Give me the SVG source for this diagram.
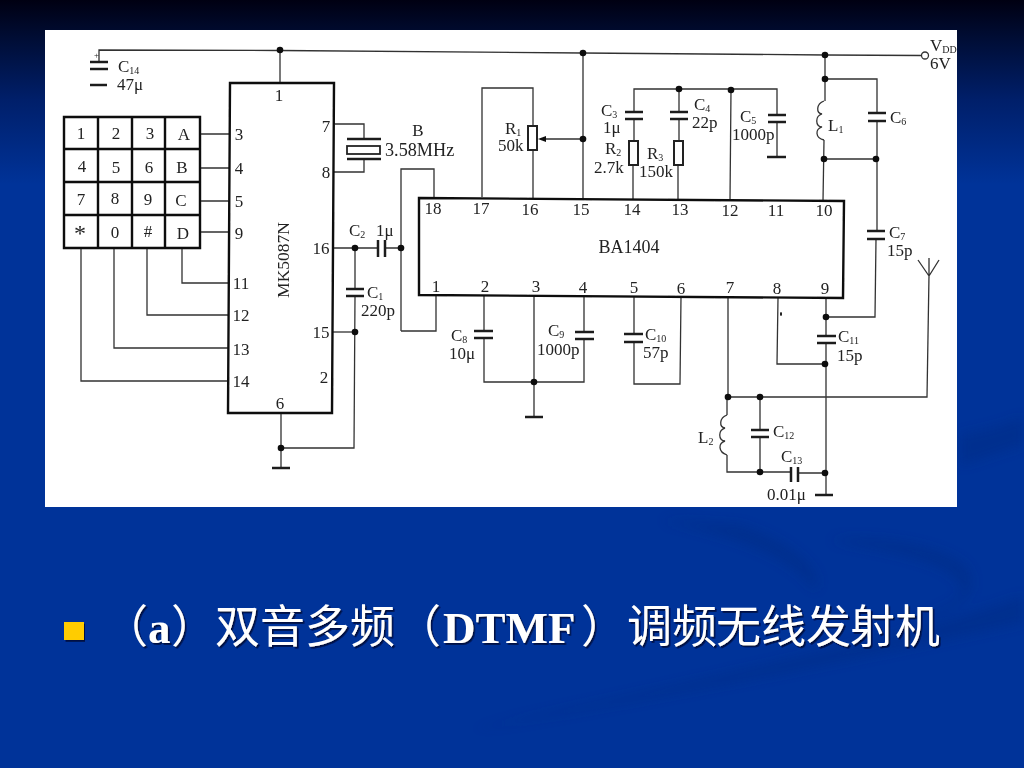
<svg xmlns="http://www.w3.org/2000/svg" width="1024" height="768" viewBox="0 0 1024 768">
<style>
.w{fill:none;stroke:#333;stroke-width:1.3}
.p{fill:none;stroke:#111;stroke-width:2.4}
.b{fill:none;stroke:#1a1a1a;stroke-width:2.500}
.o{fill:#fff;stroke:#222;stroke-width:2}
.d{fill:#111}
text{font-family:"Liberation Serif","Noto Sans CJK SC",serif}
.t{font-size:17px;fill:#222}
.c{font-size:17px;fill:#222;text-anchor:middle}
.s{font-size:10px}
.title{font-size:45px;fill:#fff;font-family:"Liberation Serif","Noto Sans CJK SC",serif}
.lat{font-weight:bold}
</style>
<defs>
<linearGradient id="bg" x1="0" y1="0" x2="0" y2="1">
<stop offset="0" stop-color="#000012"/>
<stop offset="0.05" stop-color="#000d35"/>
<stop offset="0.13" stop-color="#001f6a"/>
<stop offset="0.24" stop-color="#003399"/>
<stop offset="1" stop-color="#003399"/>
</linearGradient>
<filter id="soft" x="-5%" y="-5%" width="110%" height="110%"><feGaussianBlur stdDeviation="0.4"/></filter>
<filter id="blur" x="-20%" y="-20%" width="140%" height="140%"><feGaussianBlur stdDeviation="6"/></filter>
<filter id="shadow" x="-5%" y="-20%" width="110%" height="140%"><feDropShadow dx="1.6" dy="1.8" stdDeviation="0.5" flood-color="#001040" flood-opacity="0.95"/></filter>
</defs>
<rect width="1024" height="768" fill="url(#bg)"/>
<g id="swooshes" filter="url(#blur)" fill="#002a80" opacity="0.4">
<path d="M1024 596C900 640 700 680 470 730C640 700 860 660 1024 622Z"/>
<path d="M660 520C730 535 790 555 815 590C825 575 800 545 740 525Z"/>
<path d="M830 540C880 550 950 560 960 585C970 600 940 610 900 625C960 615 985 590 965 565C940 545 880 535 830 540Z"/>
<path d="M960 435C985 430 1005 425 1024 417V445C1005 450 985 458 960 465Z"/>
</g>
<rect id="panel" x="45" y="30" width="912" height="477" fill="#fff"/>
<g id="schematic" filter="url(#soft)">
<g id="connectors">
<path class="w" d="M99 62V50L280 50.500L582 53L826 55L921 55.500"/>
<path class="w" d="M280 51V83"/>
<path class="w" d="M200 134H230M200 168H230M200 201H230M200 232H229M182 248V283H229M147 248V315H229M114 248V348H228M81 248V381H228"/>
<path class="w" d="M334 124H364V139M364 159V172H333"/>
<path class="w" d="M281 413V467M281 448H354L355 296M355 289V248M334 248H378M385 248H401M401 331V169H434V198M401 331H436V296"/>
<path class="w" d="M333 332H355"/>
<path class="w" d="M482 197V88H533V126M533 150V199M583 53V199M583 139H540"/>
<path class="w" d="M634 112V89H777V115M634 119V141M633 165V199M679 89V112M679 119V141M678 165V199M731 90L730 200M777 122V157"/>
<path class="w" d="M825 55V101M824 140L823 201M825 79H877V113M877 121V231M824 159H876M876 239L875 317H826M826 298V336M826 343V495M825 364H777L778 298"/>
<path class="w" d="M484 296V331M484 338V382H584V339M584 332V296M534 296V416M634 296V334M634 342V384H680L681 297"/>
<path class="w" d="M728 298V397H927L929 275M929 258V276L918 260M929 276L939 260"/>
<path class="w" d="M760 397V430M760 437V472M727 397V415M727 455V472H791M798 473H825"/>
<path class="w" d="M824 101C816 104 816 113 822 114C815 116 815 126 822 127C815 129 815 138 824 140" stroke-width="1.6"/>
<path class="w" d="M727 415C719 418 719 427 725 428C718 430 718 440 725 441C718 443 718 452 727 455" stroke-width="1.6"/>
</g>
<g id="dots">
<circle class="d" cx="280" cy="50" r="3.300"/><circle class="d" cx="355" cy="248" r="3.300"/><circle class="d" cx="401" cy="248" r="3.300"/><circle class="d" cx="355" cy="332" r="3.300"/><circle class="d" cx="281" cy="448" r="3.300"/>
<circle class="d" cx="583" cy="53" r="3.300"/><circle class="d" cx="583" cy="139" r="3.300"/><circle class="d" cx="679" cy="89" r="3.300"/><circle class="d" cx="731" cy="90" r="3.300"/>
<circle class="d" cx="825" cy="55" r="3.300"/><circle class="d" cx="825" cy="79" r="3.300"/><circle class="d" cx="824" cy="159" r="3.300"/><circle class="d" cx="876" cy="159" r="3.300"/>
<circle class="d" cx="826" cy="317" r="3.300"/><circle class="d" cx="825" cy="364" r="3.300"/><circle class="d" cx="534" cy="382" r="3.300"/><circle class="d" cx="728" cy="397" r="3.300"/><circle class="d" cx="760" cy="397" r="3.300"/><circle class="d" cx="760" cy="472" r="3.300"/><circle class="d" cx="825" cy="473" r="3.300"/>
<circle cx="925" cy="55.500" r="3.500" fill="#fff" stroke="#333" stroke-width="1.300"/>
<ellipse class="d" cx="781" cy="314" rx="1" ry="2"/>
<path class="d" d="M538 139L546 136V142Z"/>
</g>
<g id="keypad">
<path class="p" d="M64 117H200V248H64ZM98 117V248M132 117V248M165 117V248M64 149H200M64 182H200M64 215H200"/>
<text class="c" x="81" y="139">1</text><text class="c" x="116" y="139">2</text><text class="c" x="150" y="139">3</text><text class="c" x="184" y="140">A</text>
<text class="c" x="82" y="172">4</text><text class="c" x="116" y="173">5</text><text class="c" x="149" y="173">6</text><text class="c" x="182" y="173">B</text>
<text class="c" x="81" y="205">7</text><text class="c" x="115" y="204">8</text><text class="c" x="148" y="205">9</text><text class="c" x="181" y="206">C</text>
<text class="c" x="80" y="241" style="font-size:24px">*</text><text class="c" x="115" y="238">0</text><text class="c" x="148" y="237">#</text><text class="c" x="183" y="239">D</text>
</g>
<g id="mk5087n">
<path class="p" d="M230 83H334L332 413H228Z"/>
<text class="c" x="279" y="101">1</text>
<text class="c" x="239" y="140">3</text><text class="c" x="239" y="174">4</text><text class="c" x="239" y="207">5</text><text class="c" x="239" y="239">9</text>
<text class="c" x="241" y="289">11</text><text class="c" x="241" y="321">12</text><text class="c" x="241" y="355">13</text><text class="c" x="241" y="387">14</text>
<text class="c" x="326" y="132">7</text><text class="c" x="326" y="178">8</text><text class="c" x="321" y="254">16</text><text class="c" x="321" y="338">15</text><text class="c" x="324" y="383">2</text><text class="c" x="280" y="409">6</text>
<text class="c" transform="translate(289 260) rotate(-90)" style="font-size:17.500px">MK5087N</text>
</g>
<g id="crystal-b">
<path class="b" d="M347 139H381M347 159H381"/><rect x="347" y="146" width="33" height="8" fill="#fff" stroke="#222" stroke-width="1.800"/>
<text class="c" x="418" y="136">B</text><text class="t" x="385" y="156" style="font-size:18.200px">3.58MHz</text>
</g>
<g id="ba1404">
<path class="p" d="M419 198L844 201L843 298L419 295Z"/>
<text class="c" x="629" y="253" style="font-size:18px">BA1404</text>
<text class="c" x="433" y="214">18</text><text class="c" x="481" y="214">17</text><text class="c" x="530" y="215">16</text><text class="c" x="581" y="215">15</text><text class="c" x="632" y="215">14</text><text class="c" x="680" y="215">13</text><text class="c" x="730" y="216">12</text><text class="c" x="776" y="216">11</text><text class="c" x="824" y="216">10</text>
<text class="c" x="436" y="292">1</text><text class="c" x="485" y="292">2</text><text class="c" x="536" y="292">3</text><text class="c" x="583" y="293">4</text><text class="c" x="634" y="293">5</text><text class="c" x="681" y="294">6</text><text class="c" x="730" y="293">7</text><text class="c" x="777" y="294">8</text><text class="c" x="825" y="294">9</text>
</g>
<g id="r1"><rect class="o" x="528" y="126" width="9" height="24"/><text class="t" x="505" y="134">R<tspan class="s" dy="2">1</tspan></text><text class="t" x="498" y="151">50k</text></g>
<g id="r2"><rect class="o" x="629" y="141" width="9" height="24"/><text class="t" x="605" y="154">R<tspan class="s" dy="2">2</tspan></text><text class="t" x="594" y="173">2.7k</text></g>
<g id="r3"><rect class="o" x="674" y="141" width="9" height="24"/><text class="t" x="647" y="159">R<tspan class="s" dy="2">3</tspan></text><text class="t" x="639" y="177">150k</text></g>
<g id="c14"><path class="b" d="M90 62H108" stroke-width="2.200"/><path class="b" d="M90 69H108" stroke-width="2.800"/><path class="b" d="M90 85H107" stroke-width="2.800"/><text class="t" x="94" y="58" style="font-size:9px">+</text><text class="t" x="118" y="72">C<tspan class="s" dy="2">14</tspan></text><text class="t" x="117" y="90">47μ</text></g>
<g id="c1"><path class="b" d="M346 289H364M346 296H364"/><text class="t" x="367" y="298">C<tspan class="s" dy="2">1</tspan></text><text class="t" x="361" y="316">220p</text></g>
<g id="c2"><path class="b" d="M378 240V257M385 240V257"/><text class="t" x="349" y="236">C<tspan class="s" dy="2">2</tspan></text><text class="t" x="376" y="236">1μ</text></g>
<g id="c3"><path class="b" d="M625 112H643M625 119H643"/><text class="t" x="601" y="116">C<tspan class="s" dy="2">3</tspan></text><text class="t" x="603" y="133">1μ</text></g>
<g id="c4"><path class="b" d="M670 112H688M670 119H688"/><text class="t" x="694" y="110">C<tspan class="s" dy="2">4</tspan></text><text class="t" x="692" y="128">22p</text></g>
<g id="c5"><path class="b" d="M768 115H786M768 122H786"/><path class="b" d="M767 157H786" stroke-width="2.600"/><text class="t" x="740" y="122">C<tspan class="s" dy="2">5</tspan></text><text class="t" x="732" y="140">1000p</text></g>
<g id="c6"><path class="b" d="M868 113H886M868 121H886"/><text class="t" x="890" y="123">C<tspan class="s" dy="2">6</tspan></text></g>
<g id="c7"><path class="b" d="M867 231H885M867 239H885"/><text class="t" x="889" y="238">C<tspan class="s" dy="2">7</tspan></text><text class="t" x="887" y="256">15p</text></g>
<g id="c8"><path class="b" d="M474 331H493M474 338H493"/><text class="t" x="451" y="341">C<tspan class="s" dy="2">8</tspan></text><text class="t" x="449" y="359">10μ</text></g>
<g id="c9"><path class="b" d="M575 332H594M575 339H594"/><text class="t" x="548" y="336">C<tspan class="s" dy="2">9</tspan></text><text class="t" x="537" y="355">1000p</text></g>
<g id="c10"><path class="b" d="M624 334H643M624 342H643"/><text class="t" x="645" y="340">C<tspan class="s" dy="2">10</tspan></text><text class="t" x="643" y="358">57p</text></g>
<g id="c11"><path class="b" d="M817 336H836M817 343H836"/><text class="t" x="838" y="342">C<tspan class="s" dy="2">11</tspan></text><text class="t" x="837" y="361">15p</text></g>
<g id="c12"><path class="b" d="M751 430H769M751 437H769"/><text class="t" x="773" y="437">C<tspan class="s" dy="2">12</tspan></text></g>
<g id="c13"><path class="b" d="M791 467V482M798 467V482"/><text class="t" x="781" y="462">C<tspan class="s" dy="2">13</tspan></text><text class="t" x="767" y="500">0.01μ</text></g>
<g id="l1"><text class="t" x="828" y="131">L<tspan class="s" dy="2">1</tspan></text></g>
<g id="l2"><text class="t" x="698" y="443">L<tspan class="s" dy="2">2</tspan></text></g>
<g id="supply"><text class="t" x="930" y="51">V<tspan class="s" dy="2">DD</tspan></text><text class="t" x="930" y="69">6V</text></g>
<g id="grounds"><path class="b" d="M272 468H290M525 417H543M815 495H833" stroke-width="2.600"/></g>
</g>
<g id="caption">
<rect x="64" y="622" width="20" height="18" fill="#ffcc00" filter="url(#shadow)"/>
<text class="title" filter="url(#shadow)" y="643"><tspan x="103">（</tspan><tspan x="148" class="lat">a</tspan><tspan x="171">）</tspan><tspan x="215">双</tspan><tspan x="260">音</tspan><tspan x="305">多</tspan><tspan x="350">频</tspan><tspan x="396">（</tspan><tspan x="443" class="lat">DTMF</tspan><tspan x="581">）</tspan><tspan x="627">调</tspan><tspan x="672">频</tspan><tspan x="716">无</tspan><tspan x="761">线</tspan><tspan x="806">发</tspan><tspan x="850">射</tspan><tspan x="895">机</tspan></text>
</g>
</svg>
